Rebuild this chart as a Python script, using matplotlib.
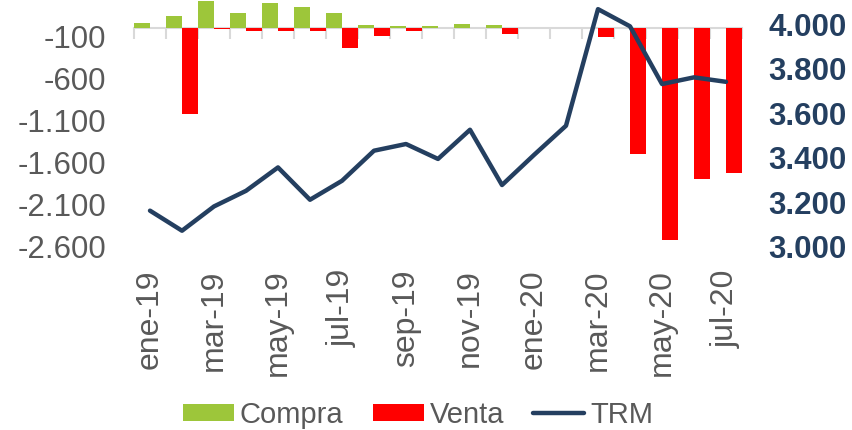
import matplotlib
matplotlib.use("Agg")
import matplotlib.pyplot as plt
import numpy as np

plt.rcParams['font.family'] = ['Liberation Sans', 'DejaVu Sans']

# data
months = ['ene-19', 'feb-19', 'mar-19', 'abr-19', 'may-19', 'jun-19', 'jul-19',
          'ago-19', 'sep-19', 'oct-19', 'nov-19', 'dic-19', 'ene-20', 'feb-20',
          'mar-20', 'abr-20', 'may-20', 'jun-20', 'jul-20']
compra = [61, 140, 317, 180, 293, 250, 183, 33, 30, 21, 53, 33, 0, 0, 0, 0, 0, 0, 0]
venta = [0, -1020, -10, -30, -38, -38, -234, -100, -38, 0, 0, -65, 0, 0,
         -110, -1500, -2520, -1790, -1725]
trm = [3163, 3073, 3182, 3252, 3357, 3212, 3297, 3432, 3462, 3395, 3526, 3278,
       3413, 3544, 4067, 3990, 3731, 3761, 3741]

left_ticks = [-2600, -2100, -1600, -1100, -600, -100]
right_ticks = [3000, 3200, 3400, 3600, 3800, 4000]

GREEN = '#9dc63a'
RED = '#ff0000'
NAVY = '#243f60'
GRAY = '#595959'
AXIS = '#d9d9d9'


def miles(v):
    return f"{v:,.0f}".replace(',', '.')


fig = plt.figure(figsize=(8.52, 4.30), dpi=100)
ax = fig.add_axes([134 / 852, 1 - 247 / 430, (742 - 134) / 852, 247 / 430])

x = np.arange(len(months))
ax.bar(x - 0.25, compra, width=0.5, color=GREEN, label='Compra', zorder=2)
ax.bar(x + 0.25, venta, width=0.5, color=RED, label='Venta', zorder=2)

ax.set_xlim(-0.5, len(months) - 0.5)
ax.set_ylim(-2600, 333)
ax.set_yticks(left_ticks)
ax.set_yticklabels([miles(v) for v in left_ticks])
ax.tick_params(axis='y', length=0, pad=20, labelsize=22.5, labelcolor=GRAY)

for s in ['top', 'left', 'right']:
    ax.spines[s].set_visible(False)
ax.spines['bottom'].set_position(('data', 0))
ax.spines['bottom'].set_color(AXIS)
ax.spines['bottom'].set_linewidth(1.5)
ax.spines['bottom'].set_zorder(1)
ax.set_xticks(np.arange(len(months) + 1) - 0.5)
ax.tick_params(axis='x', length=8, width=1.5, color=AXIS, labelbottom=False)

sec = ax.secondary_xaxis('bottom')
sec.set_xticks(x[::2])
sec.set_xticklabels(months[::2], rotation=90)
sec.tick_params(length=0, pad=16, labelsize=23, labelcolor=GRAY)
sec.spines['bottom'].set_visible(False)

ax2 = ax.twinx()
ax2.plot(x, trm, color=NAVY, lw=3.2, solid_capstyle='round', label='TRM')
ax2.set_ylim(3000, 4108)
ax2.set_yticks(right_ticks)
ax2.set_yticklabels([miles(v) for v in right_ticks])
ax2.tick_params(axis='y', length=0, pad=19, labelsize=22.5, labelcolor=NAVY)
for lab in ax2.get_yticklabels():
    lab.set_fontweight('bold')
for s in ax2.spines.values():
    s.set_visible(False)

h1, l1 = ax.get_legend_handles_labels()
h2, l2 = ax2.get_legend_handles_labels()
leg = fig.legend(h1 + h2, l1 + l2, loc='center', bbox_to_anchor=(418 / 852, 1 - 415 / 430),
                 ncol=3, frameon=False, fontsize=21, handlelength=1.75, handleheight=0.55,
                 handletextpad=0.2, columnspacing=1.0)
for t in leg.get_texts():
    t.set_color(GRAY)

fig.savefig("out.png", dpi=100)
